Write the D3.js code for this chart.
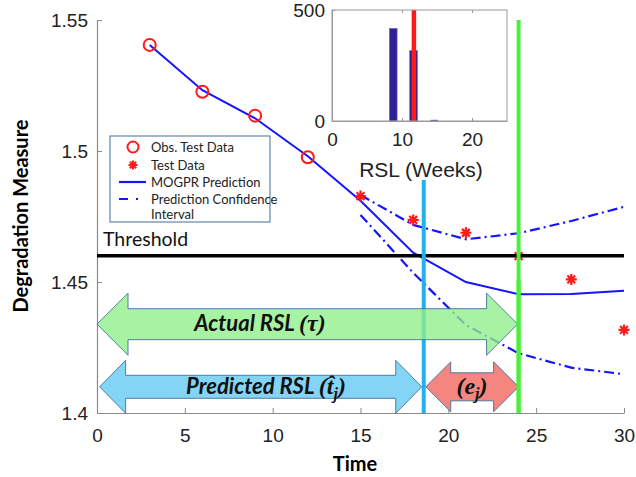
<!DOCTYPE html>
<html>
<head>
<meta charset="utf-8">
<script src="https://cdn.jsdelivr.net/npm/d3@7"></script>
<style>
  html, body { margin: 0; padding: 0; background: #fff; }
  svg { display: block; }
</style>
</head>
<body>
<svg id="chart" width="636" height="477"></svg>
<script>
// Observed test data (hollow circles)
const obsTime = [3, 6, 9, 12];
const obsValue = [1.5405, 1.5226, 1.5135, 1.4976];

// Held-out test data (asterisks)
const testTime = [15, 18, 21, 24, 27, 30];
const testValue = [1.4828, 1.4737, 1.4688, 1.4599, 1.4510, 1.4317];

// MOGPR mean prediction
const predTime = [3, 6, 9, 12, 15, 18, 21, 24, 27, 30];
const predValue = [1.5405, 1.5232, 1.5125, 1.4980, 1.4810, 1.4612, 1.4500, 1.4453, 1.4454, 1.4467];

// Prediction confidence interval
const ciTime = [15, 18, 21, 24, 27, 30];
const ciUpper = [1.4832, 1.4718, 1.4663, 1.4686, 1.4733, 1.4787];
const ciLower = [1.4756, 1.4535, 1.4336, 1.4228, 1.4173, 1.4148];

const threshold = 1.46;
const predictedCross = 18.6;   // predicted threshold crossing
const actualCross = 24.0;      // actual threshold crossing

// RSL histogram (inset)
const binStart = [8.2, 11.1, 14.1];
const binEnd = [9.3, 12.2, 15.1];
const binCount = [417, 317, 4];
const trueRSL = 11.7;

const xTicks = [0, 5, 10, 15, 20, 25, 30];
const yTicks = [1.4, 1.45, 1.5, 1.55];
const histXTicks = [0, 10, 20];
const histYTicks = [0, 500];

const svg = d3.select("#chart");
const x = d3.scaleLinear().domain([0, 30]).range([97, 624]);
const y = d3.scaleLinear().domain([1.4, 1.55]).range([413, 20]);

const sans = "'Liberation Sans', Arial, sans-serif";
const humanist = "Lato, 'Open Sans', sans-serif";
const mathFont = "'Liberation Serif', 'DejaVu Serif', serif";

// Axes: left and bottom spines with inward ticks
const gx = svg.append("g").attr("transform", `translate(0,${y(1.4)})`)
  .call(d3.axisBottom(x).tickValues(xTicks).tickSizeInner(-5).tickSizeOuter(0).tickPadding(16));
const gy = svg.append("g").attr("transform", `translate(${x(0)},0)`)
  .call(d3.axisLeft(y).tickValues(yTicks).tickFormat(d3.format("")).tickSizeInner(-5).tickSizeOuter(0).tickPadding(9));
[gx, gy].forEach(g => {
  g.select(".domain").attr("stroke", "#8a8a8a").attr("stroke-width", 1.2);
  g.selectAll(".tick line").attr("stroke", "#8a8a8a");
  g.selectAll(".tick text").attr("font-family", sans).attr("font-size", 19).attr("fill", "#222");
});

svg.append("text").attr("x", 355).attr("y", 471).attr("text-anchor", "middle")
  .attr("font-family", humanist).attr("font-weight", "bold").attr("font-size", 20).text("Time");
svg.append("text").attr("transform", "translate(28,216) rotate(-90)").attr("text-anchor", "middle")
  .attr("font-family", humanist).attr("font-weight", "bold").attr("font-size", 20).text("Degradation Measure");

// Lines
const line = d3.line().x(d => x(d[0])).y(d => y(d[1]));
const dashDot = "10,4,2,4";
svg.append("path").datum(d3.zip(ciTime, ciUpper)).attr("d", line)
  .attr("fill", "none").attr("stroke", "#1414ff").attr("stroke-width", 2.2).attr("stroke-dasharray", dashDot);
svg.append("path").datum(d3.zip(ciTime, ciLower)).attr("d", line)
  .attr("fill", "none").attr("stroke", "#1414ff").attr("stroke-width", 2.2).attr("stroke-dasharray", dashDot);
svg.append("path").datum(d3.zip(predTime, predValue)).attr("d", line)
  .attr("fill", "none").attr("stroke", "#1414ff").attr("stroke-width", 2);

// Markers
const starPath = r => {
  const a = r * Math.SQRT1_2;
  return `M${-r},0L${r},0M0,${-r}L0,${r}M${-a},${-a}L${a},${a}M${-a},${a}L${a},${-a}`;
};
svg.append("g").selectAll("circle").data(d3.zip(obsTime, obsValue)).join("circle")
  .attr("cx", d => x(d[0])).attr("cy", d => y(d[1])).attr("r", 6)
  .attr("fill", "none").attr("stroke", "#ff1a1a").attr("stroke-width", 2);
svg.append("g").selectAll("path").data(d3.zip(testTime, testValue)).join("path")
  .attr("transform", d => `translate(${x(d[0])},${y(d[1])})`).attr("d", starPath(5.5))
  .attr("stroke", "#ff1a1a").attr("stroke-width", 2.2).attr("fill", "none");

// Threshold
svg.append("line").attr("x1", x(0)).attr("x2", x(30)).attr("y1", y(threshold)).attr("y2", y(threshold))
  .attr("stroke", "#000").attr("stroke-width", 3.5);
svg.append("text").attr("x", 103).attr("y", 246).attr("font-family", humanist).attr("font-size", 19.5)
  .attr("fill", "#111").text("Threshold");

// Crossing markers
svg.append("line").attr("x1", x(predictedCross)).attr("x2", x(predictedCross)).attr("y1", 180).attr("y2", y(1.4))
  .attr("stroke", "#21b2ec").attr("stroke-width", 4);
svg.append("line").attr("x1", x(actualCross)).attr("x2", x(actualCross)).attr("y1", 20).attr("y2", y(1.4))
  .attr("stroke", "#4cef3d").attr("stroke-width", 4);

// Block arrows spanning time intervals
function blockArrow(x0, x1, yc, shaft, head, hl) {
  const p = [
    [x0, yc], [x0 + hl, yc - head], [x0 + hl, yc - shaft],
    [x1 - hl, yc - shaft], [x1 - hl, yc - head], [x1, yc], [x1 - hl, yc + head], [x1 - hl, yc + shaft],
    [x0 + hl, yc + shaft], [x0 + hl, yc + head]
  ];
  return "M" + p.map(q => q.join(",")).join("L") + "Z";
}
const yc1 = y(1.4339), yc2 = y(1.410);
svg.append("path").attr("d", blockArrow(x(0), x(actualCross) - 1, yc1, 15.5, 31, 31))
  .attr("fill", "#8ff089").attr("fill-opacity", 0.78).attr("stroke", "#41719c").attr("stroke-width", 0.9);
svg.append("path").attr("d", blockArrow(x(0.15), x(predictedCross) - 2, yc2, 11.5, 26.5, 26))
  .attr("fill", "#83d4f5").attr("stroke", "#41719c").attr("stroke-width", 0.9);
svg.append("path").attr("d", blockArrow(x(predictedCross) + 2, x(actualCross), yc2, 14, 25, 25))
  .attr("fill", "#f5857f").attr("stroke", "#41719c").attr("stroke-width", 0.9);
// green marker over the arrow tips
svg.append("line").attr("x1", x(actualCross)).attr("x2", x(actualCross)).attr("y1", 280).attr("y2", y(1.4))
  .attr("stroke", "#4cef3d").attr("stroke-width", 4);

const t1 = svg.append("text").attr("x", 260).attr("y", yc1 + 7).attr("text-anchor", "middle")
  .attr("font-family", humanist).attr("font-weight", "bold").attr("font-style", "italic").attr("font-size", 22).attr("fill", "#111");
t1.append("tspan").text("Actual RSL ");
t1.append("tspan").attr("font-family", mathFont).attr("font-size", 24).text("(τ)");
const t2 = svg.append("text").attr("x", 266).attr("y", yc2 + 7).attr("text-anchor", "middle")
  .attr("font-family", humanist).attr("font-weight", "bold").attr("font-style", "italic").attr("font-size", 22).attr("fill", "#111");
t2.append("tspan").text("Predicted RSL ");
t2.append("tspan").attr("font-family", mathFont).attr("font-size", 24).text("(t\u0302");
t2.append("tspan").attr("font-family", mathFont).attr("font-size", 16).attr("dy", 5).text("j");
t2.append("tspan").attr("font-family", mathFont).attr("font-size", 24).attr("dy", -5).text(")");
const t3 = svg.append("text").attr("x", 472).attr("y", yc2 + 7).attr("text-anchor", "middle")
  .attr("font-family", mathFont).attr("font-weight", "bold").attr("font-style", "italic").attr("font-size", 24).attr("fill", "#111");
t3.append("tspan").text("(e");
t3.append("tspan").attr("font-size", 16).attr("dy", 5).text("j");
t3.append("tspan").attr("dy", -5).text(")");

// Legend
const lg = svg.append("g");
lg.append("rect").attr("x", 110).attr("y", 136).attr("width", 160).attr("height", 86)
  .attr("fill", "#fff").attr("stroke", "#41719c").attr("stroke-width", 1);
lg.append("circle").attr("cx", 133).attr("cy", 147).attr("r", 5.5).attr("fill", "none").attr("stroke", "#ff1a1a").attr("stroke-width", 2);
lg.append("path").attr("transform", "translate(133,165)").attr("d", starPath(4.5)).attr("stroke", "#ff1a1a").attr("stroke-width", 2);
lg.append("line").attr("x1", 119).attr("x2", 146).attr("y1", 182).attr("y2", 182).attr("stroke", "#1414ff").attr("stroke-width", 2.2);
lg.append("line").attr("x1", 119).attr("x2", 146).attr("y1", 199).attr("y2", 199).attr("stroke", "#1414ff").attr("stroke-width", 2.2).attr("stroke-dasharray", "9,8,2,20");
const legendText = [["Obs. Test Data", 147], ["Test Data", 165], ["MOGPR Prediction", 182], ["Prediction Confidence", 199], ["Interval", 214]];
lg.selectAll("text.lt").data(legendText).join("text").attr("class", "lt")
  .attr("x", 151).attr("y", d => d[1] + 4.5).attr("font-family", humanist).attr("font-size", 13).attr("fill", "#222")
  .text(d => d[0]);

// Inset histogram of RSL samples
const hx = d3.scaleLinear().domain([0, 25]).range([332, 507]);
const hy = d3.scaleLinear().domain([0, 500]).range([121, 10]);
const inset = svg.append("g");
inset.append("rect").attr("x", hx(0)).attr("y", hy(500)).attr("width", hx(25) - hx(0)).attr("height", hy(0) - hy(500))
  .attr("fill", "#fff");
inset.selectAll("rect.bar").data(d3.zip(binStart, binEnd, binCount)).join("rect").attr("class", "bar")
  .attr("x", d => hx(d[0])).attr("width", d => hx(d[1]) - hx(d[0]))
  .attr("y", d => hy(d[2])).attr("height", d => hy(0) - hy(d[2]))
  .attr("fill", "#2d2395").attr("stroke", "#6a66b0").attr("stroke-width", 0.6);
inset.append("line").attr("x1", hx(trueRSL)).attr("x2", hx(trueRSL)).attr("y1", hy(500)).attr("y2", hy(0))
  .attr("stroke", "#ff1a1a").attr("stroke-width", 4.5);
inset.append("rect").attr("x", hx(0)).attr("y", hy(500)).attr("width", hx(25) - hx(0)).attr("height", hy(0) - hy(500))
  .attr("fill", "none").attr("stroke", "#9a9a9a").attr("stroke-width", 1);
const hgx = inset.append("g").attr("transform", `translate(0,${hy(0)})`)
  .call(d3.axisBottom(hx).tickValues(histXTicks).tickSizeInner(-3).tickSizeOuter(0).tickPadding(12));
const hgy = inset.append("g").attr("transform", `translate(${hx(0)},0)`)
  .call(d3.axisLeft(hy).tickValues(histYTicks).tickSizeInner(-3).tickSizeOuter(0).tickPadding(7));
inset.append("g").attr("transform", `translate(0,${hy(500)})`)
  .call(d3.axisTop(hx).tickValues(histXTicks).tickSizeInner(-3).tickSizeOuter(0).tickFormat(""))
  .select(".domain").remove();
[hgx, hgy].forEach(g => {
  g.select(".domain").attr("stroke", "#9a9a9a");
  g.selectAll(".tick text").attr("font-family", sans).attr("font-size", 19).attr("fill", "#222");
});
inset.selectAll(".tick line").attr("stroke", "#9a9a9a");
inset.append("text").attr("x", 421).attr("y", 177).attr("text-anchor", "middle")
  .attr("font-family", sans).attr("font-size", 21).attr("fill", "#222").text("RSL (Weeks)");
</script>
</body>
</html>
